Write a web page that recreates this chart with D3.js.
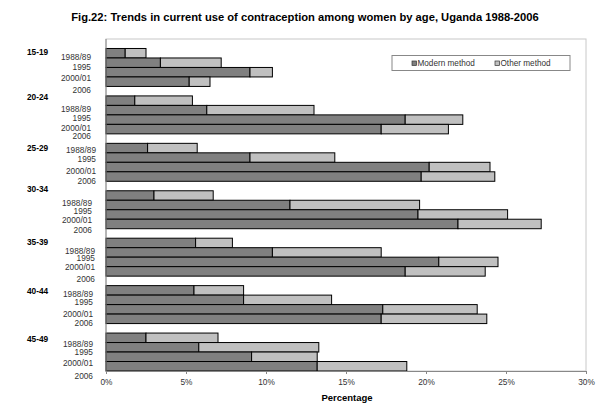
<!DOCTYPE html>
<html><head><meta charset="utf-8">
<script src="https://cdn.jsdelivr.net/npm/d3@7"></script>
<style>body{margin:0;background:#fff}svg{display:block;font-family:"Liberation Sans",Arial,sans-serif}</style>
</head><body><svg id="c" width="600" height="409"></svg>
<script>
const ageGroups = ["15-19","20-24","25-29","30-34","35-39","40-44","45-49"];
const years = ["1988/89","1995","2000/01","2006"];
const seriesNames = ["Modern method","Other method"];
// modern method per age group, in year order
const modern = [
  [1.2, 3.4, 9.0, 5.2],
  [1.8, 6.3, 18.7, 17.2],
  [2.6, 9.0, 20.2, 19.7],
  [3.0, 11.5, 19.5, 22.0],
  [5.6, 10.4, 20.8, 18.7],
  [5.5, 8.6, 17.3, 17.2],
  [2.5, 5.8, 9.1, 13.2]
];
const other = [
  [1.3, 3.8, 1.4, 1.3],
  [3.6, 6.7, 3.6, 4.2],
  [3.1, 5.3, 3.8, 4.6],
  [3.7, 8.1, 5.6, 5.2],
  [2.3, 6.8, 3.7, 5.0],
  [3.1, 5.5, 5.9, 6.6],
  [4.5, 7.5, 4.1, 5.6]
];
const xTicks = [0,5,10,15,20,25,30];

// layout nudges (pixels) copying the reference's hand-placed labels
const yearLabelNudge = [
  [4,4,6,8],[8,7.5,8,6.5],[2,1.5,4,4.5],[7,5.5,6,6],[8,6,5.5,8],[3.5,2.5,5,4],[6,4.5,6,9.5]
];
const yearLabelRight = [91,91,96,92,95,93,93];
const ageLabelNudge = [12.7,10.3,14.4,8,13.6,14.8,15.7];

const svg = d3.select("#c");
const L=106,R=586,T=39,B=371;
const x = d3.scaleLinear().domain([0,30]).range([L,R]);
const yGroup = d3.scaleBand().domain(ageGroups).range([T,B]);
const slot = yGroup.bandwidth()/5;
const yYear = d3.scaleBand().domain(years).range([slot, yGroup.bandwidth()]);

svg.append("text").attr("x",305).attr("y",21).attr("text-anchor","middle")
  .attr("font-size",11.2).attr("font-weight","bold").text("Fig.22:  Trends in current use of contraception among women by age, Uganda 1988-2006");

svg.append("rect").attr("x",L).attr("y",T).attr("width",R-L).attr("height",B-T)
  .attr("fill","none").attr("stroke","#c8c8c8");

const colors = ["#808080","#c0c0c0"];
ageGroups.forEach((g,gi)=>{
  const gy = yGroup(g);
  years.forEach((yr,yi)=>{
    const y0 = gy + yYear(yr);
    const m = modern[gi][yi], o = other[gi][yi];
    svg.append("rect").attr("x",x(0)).attr("y",y0).attr("width",x(m)-x(0)).attr("height",yYear.bandwidth())
      .attr("fill",colors[0]).attr("stroke","#000").attr("stroke-width",1);
    svg.append("rect").attr("x",x(m)).attr("y",y0).attr("width",x(m+o)-x(m)).attr("height",yYear.bandwidth())
      .attr("fill",colors[1]).attr("stroke","#000").attr("stroke-width",1);
    svg.append("text").attr("x",yearLabelRight[gi]).attr("y",y0+yYear.bandwidth()/2+yearLabelNudge[gi][yi]+3)
      .attr("text-anchor","end").attr("font-size",8.3).attr("fill","#333").text(yr);
  });
  svg.append("text").attr("x",27).attr("y",gy+ageLabelNudge[gi]+3).attr("font-size",8.3)
    .attr("font-weight","bold").text(g);
});

svg.append("line").attr("x1",L).attr("x2",L).attr("y1",T).attr("y2",B).attr("stroke","#888");
const ax = svg.append("g").attr("transform",`translate(0,${B})`)
  .call(d3.axisBottom(x).tickValues(xTicks).tickFormat(d=>d+"%").tickSize(3).tickPadding(5));
ax.select(".domain").attr("stroke","#888");
ax.selectAll(".tick line").attr("stroke","#888");
ax.selectAll("text").attr("font-size",8.3).attr("fill","#333").attr("font-family","Liberation Sans, Arial, sans-serif");

svg.append("text").attr("x",347).attr("y",401).attr("text-anchor","middle").attr("font-size",9.5)
  .attr("font-weight","bold").text("Percentage");

const lg = svg.append("g");
lg.append("rect").attr("x",392).attr("y",55.5).attr("width",178).attr("height",15).attr("fill","#fff").attr("stroke","#888");
const lx = [412,495];
seriesNames.forEach((s,i)=>{
  lg.append("rect").attr("x",lx[i]).attr("y",61).attr("width",4.5).attr("height",4.5).attr("fill",colors[i]).attr("stroke","#333").attr("stroke-width",0.7);
  lg.append("text").attr("x",lx[i]+5.5).attr("y",66.3).attr("font-size",8.2).attr("fill","#333").text(s);
});
</script></body></html>
